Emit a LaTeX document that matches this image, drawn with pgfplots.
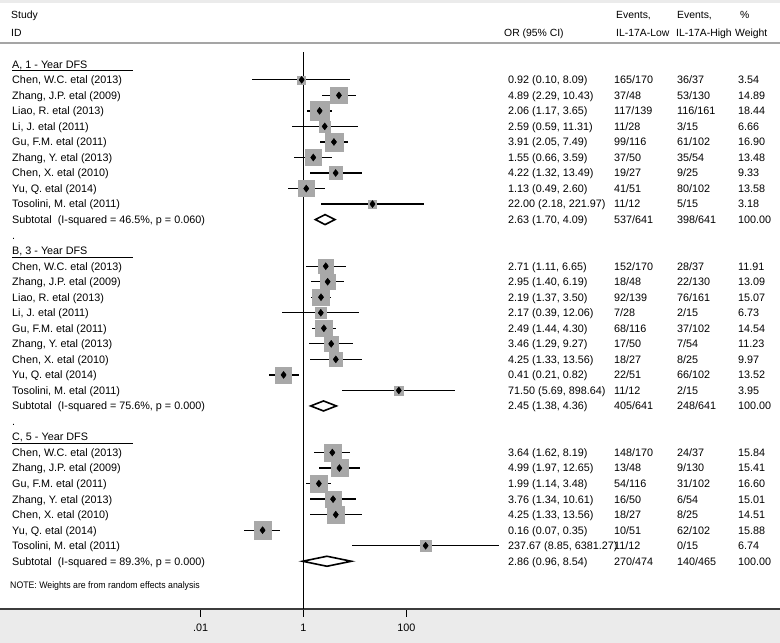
\documentclass[border=0pt]{standalone}
\usepackage{fontspec}
\setmainfont{Liberation Sans}
\usepackage{graphicx}
\usepackage{pgfplots}
\usepackage{pgfplotstable}
\pgfplotsset{compat=1.18}
\definecolor{bandgray}{RGB}{235,235,235}
\definecolor{sqgray}{RGB}{168,168,168}
\definecolor{hdrline}{RGB}{165,165,165}
\definecolor{axline}{RGB}{60,60,60}

% row = line index (0 = header "A, 1 - Year DFS"), or, lower, upper CI, % weight
\pgfplotstableread{
row or lo hi w
1 0.92 0.10 8.09 3.54
2 4.89 2.29 10.43 14.89
3 2.06 1.17 3.65 18.44
4 2.59 0.59 11.31 6.66
5 3.91 2.05 7.49 16.90
6 1.55 0.66 3.59 13.48
7 4.22 1.32 13.49 9.33
8 1.13 0.49 2.60 13.58
9 22.00 2.18 221.97 3.18
}\groupA
\pgfplotstableread{
row or lo hi w
13 2.71 1.11 6.65 11.91
14 2.95 1.40 6.19 13.09
15 2.19 1.37 3.50 15.07
16 2.17 0.39 12.06 6.73
17 2.49 1.44 4.30 14.54
18 3.46 1.29 9.27 11.23
19 4.25 1.33 13.56 9.97
20 0.41 0.21 0.82 13.52
21 71.50 5.69 898.64 3.95
}\groupB
\pgfplotstableread{
row or lo hi w
25 3.64 1.62 8.19 15.84
26 4.99 1.97 12.65 15.41
27 1.99 1.14 3.48 16.60
28 3.76 1.34 10.61 15.01
29 4.25 1.33 13.56 14.51
30 0.16 0.07 0.35 15.88
31 237.67 8.85 6381.27 6.74
}\groupC

\newcommand\txtfont{\fontsize{10.8pt}{13pt}\selectfont}
\newcommand\hdrfont{\fontsize{10.4pt}{13pt}\selectfont}
\tikzset{txt/.style={anchor=base west, inner sep=0pt, font=\txtfont},
         hdr/.style={anchor=base west, inner sep=0pt, font=\hdrfont}}

\newcommand\plotgroup[1]{%
  \addplot[forget plot, scatter, only marks, mark=square*,
    scatter/use mapped color={draw=sqgray, fill=sqgray},
    visualization depends on={2.15*sqrt(\thisrow{w}) \as \msz},
    scatter/@pre marker code/.append style={/tikz/mark size=\msz}]
    table[x=or, y expr=544.7-15.53*\thisrow{row}] {#1};
  \addplot[forget plot, only marks, mark=none,
    error bars/.cd, x dir=both, x explicit, error mark=none,
    error bar style={draw=black, solid, line width=1.3pt}]
    table[x=or, y expr=544.7-15.53*\thisrow{row},
      x error plus expr=\thisrow{hi}-\thisrow{or},
      x error minus expr=\thisrow{or}-\thisrow{lo}] {#1};
  \addplot[forget plot, only marks, mark=diamond*, mark size=3.5pt, black]
    table[x=or, y expr=544.7-15.53*\thisrow{row}] {#1};
}

\newcommand\rowtext[6]{%
  \pgfmathsetmacro\yy{609-64.3-15.53*#1-3.9}%
  \node[txt] at (12pt,\yy pt) {#2};
  \node[txt] at (508pt,\yy pt) {#3};
  \node[txt] at (614pt,\yy pt) {#4};
  \node[txt] at (677pt,\yy pt) {#5};
  \node[txt] at (738pt,\yy pt) {#6};
}
\newcommand\rowlabel[2]{%
  \pgfmathsetmacro\yy{609-64.3-15.53*#1-3.9}%
  \node[txt] at (12pt,\yy pt) {#2};
}

\begin{document}
\begin{tikzpicture}
\path[use as bounding box] (0pt,-34pt) rectangle (780pt,609pt);
\fill[bandgray] (0pt,-34pt) rectangle (780pt,0pt);
\fill[bandgray] (0pt,606pt) rectangle (780pt,609pt);
\draw[hdrline, line width=2pt] (0pt,565.5pt) -- (780pt,565.5pt);

\begin{axis}[
  at={(0pt,0pt)}, anchor=south west,
  width=780pt, height=609pt, scale only axis,
  xmode=log, log basis x=10,
  xmin=1.2454e-6, xmax=1.8637e9,
  ymin=0, ymax=609,
  axis x line=bottom, axis y line=none,
  x axis line style={-, draw=axline, line width=1.6pt},
  xtick={0.01,1,100}, xticklabels={.01,1,100},
  xminorticks=false,
  tick align=outside, major tick length=8pt,
  xtick style={draw=black, line width=1.2pt},
  ytick=\empty,
  xticklabel style={font=\txtfont, anchor=base, inner sep=0pt, yshift=-15pt},
  clip=false,
]
% reference line at OR = 1
\addplot[forget plot, black, line width=1.3pt] coordinates {(1,0) (1,557)};

\plotgroup{\groupA}
\plotgroup{\groupB}
\plotgroup{\groupC}

% subtotal diamonds
\addplot[forget plot, fill=white, draw=black, line width=1.6pt, line join=miter]
  table[x=x, y expr=544.7-15.53*\thisrow{row}+\thisrow{dy}] {
x row dy
1.70 10 0
2.63 10 5
4.09 10 0
2.63 10 -5
} -- cycle;
\addplot[forget plot, fill=white, draw=black, line width=1.6pt, line join=miter]
  table[x=x, y expr=544.7-15.53*\thisrow{row}+\thisrow{dy}] {
x row dy
1.38 22 0
2.45 22 5
4.36 22 0
2.45 22 -5
} -- cycle;
\addplot[forget plot, fill=white, draw=black, line width=1.6pt, line join=miter]
  table[x=x, y expr=544.7-15.53*\thisrow{row}+\thisrow{dy}] {
x row dy
0.96 32 0
2.86 32 5
8.54 32 0
2.86 32 -5
} -- cycle;
\end{axis}

% header
\node[hdr] at (11pt,590.6pt) {Study};
\node[hdr] at (11pt,572.6pt) {ID};
\node[hdr] at (504pt,572.6pt) {OR (95\% CI)};
\node[hdr] at (616pt,590.6pt) {Events,};
\node[hdr] at (616pt,572.6pt) {IL-17A-Low};
\node[hdr] at (677pt,590.6pt) {Events,};
\node[hdr] at (676pt,572.6pt) {IL-17A-High};
\node[hdr] at (740pt,590.6pt) {\%};
\node[hdr] at (735pt,572.6pt) {Weight};

% group A
\rowlabel{0}{A, 1 - Year DFS}
\draw[black, line width=1.2pt] (12pt,538.2pt) -- (133pt,538.2pt);
\rowtext{1}{Chen, W.C. etal (2013)}{0.92 (0.10, 8.09)}{165/170}{36/37}{3.54}
\rowtext{2}{Zhang, J.P. etal (2009)}{4.89 (2.29, 10.43)}{37/48}{53/130}{14.89}
\rowtext{3}{Liao, R. etal (2013)}{2.06 (1.17, 3.65)}{117/139}{116/161}{18.44}
\rowtext{4}{Li, J. etal (2011)}{2.59 (0.59, 11.31)}{11/28}{3/15}{6.66}
\rowtext{5}{Gu, F.M. etal (2011)}{3.91 (2.05, 7.49)}{99/116}{61/102}{16.90}
\rowtext{6}{Zhang, Y. etal (2013)}{1.55 (0.66, 3.59)}{37/50}{35/54}{13.48}
\rowtext{7}{Chen, X. etal (2010)}{4.22 (1.32, 13.49)}{19/27}{9/25}{9.33}
\rowtext{8}{Yu, Q. etal (2014)}{1.13 (0.49, 2.60)}{41/51}{80/102}{13.58}
\rowtext{9}{Tosolini, M. etal (2011)}{22.00 (2.18, 221.97)}{11/12}{5/15}{3.18}
\rowtext{10}{Subtotal\ \ (I-squared = 46.5\%, p = 0.060)}{2.63 (1.70, 4.09)}{537/641}{398/641}{100.00}
\rowlabel{11}{.}
% group B
\rowlabel{12}{B, 3 - Year DFS}
\draw[black, line width=1.2pt] (12pt,351.8pt) -- (133pt,351.8pt);
\rowtext{13}{Chen, W.C. etal (2013)}{2.71 (1.11, 6.65)}{152/170}{28/37}{11.91}
\rowtext{14}{Zhang, J.P. etal (2009)}{2.95 (1.40, 6.19)}{18/48}{22/130}{13.09}
\rowtext{15}{Liao, R. etal (2013)}{2.19 (1.37, 3.50)}{92/139}{76/161}{15.07}
\rowtext{16}{Li, J. etal (2011)}{2.17 (0.39, 12.06)}{7/28}{2/15}{6.73}
\rowtext{17}{Gu, F.M. etal (2011)}{2.49 (1.44, 4.30)}{68/116}{37/102}{14.54}
\rowtext{18}{Zhang, Y. etal (2013)}{3.46 (1.29, 9.27)}{17/50}{7/54}{11.23}
\rowtext{19}{Chen, X. etal (2010)}{4.25 (1.33, 13.56)}{18/27}{8/25}{9.97}
\rowtext{20}{Yu, Q. etal (2014)}{0.41 (0.21, 0.82)}{22/51}{66/102}{13.52}
\rowtext{21}{Tosolini, M. etal (2011)}{71.50 (5.69, 898.64)}{11/12}{2/15}{3.95}
\rowtext{22}{Subtotal\ \ (I-squared = 75.6\%, p = 0.000)}{2.45 (1.38, 4.36)}{405/641}{248/641}{100.00}
\rowlabel{23}{.}
% group C
\rowlabel{24}{C, 5 - Year DFS}
\draw[black, line width=1.2pt] (12pt,165.5pt) -- (133pt,165.5pt);
\rowtext{25}{Chen, W.C. etal (2013)}{3.64 (1.62, 8.19)}{148/170}{24/37}{15.84}
\rowtext{26}{Zhang, J.P. etal (2009)}{4.99 (1.97, 12.65)}{13/48}{9/130}{15.41}
\rowtext{27}{Gu, F.M. etal (2011)}{1.99 (1.14, 3.48)}{54/116}{31/102}{16.60}
\rowtext{28}{Zhang, Y. etal (2013)}{3.76 (1.34, 10.61)}{16/50}{6/54}{15.01}
\rowtext{29}{Chen, X. etal (2010)}{4.25 (1.33, 13.56)}{18/27}{8/25}{14.51}
\rowtext{30}{Yu, Q. etal (2014)}{0.16 (0.07, 0.35)}{10/51}{62/102}{15.88}
\rowtext{31}{Tosolini, M. etal (2011)}{237.67 (8.85, 6381.27)}{11/12}{0/15}{6.74}
\rowtext{32}{Subtotal\ \ (I-squared = 89.3\%, p = 0.000)}{2.86 (0.96, 8.54)}{270/474}{140/465}{100.00}

\node[anchor=base west, inner sep=0pt] at (10pt,20.6pt)
  {\scalebox{0.92}[1]{\fontsize{9.5pt}{11pt}\selectfont NOTE: Weights are from random effects analysis}};
\end{tikzpicture}
\end{document}
